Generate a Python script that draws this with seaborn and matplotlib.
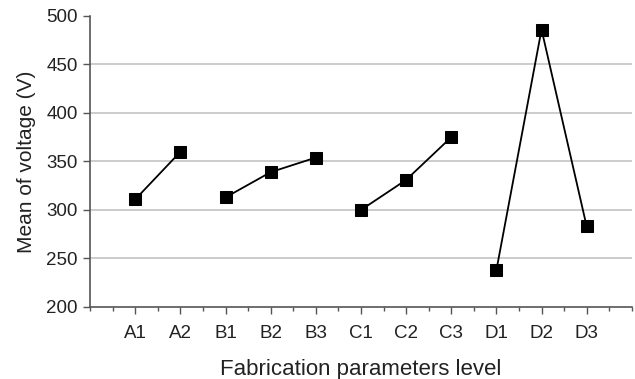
import pandas as pd
import numpy as np
import matplotlib
matplotlib.use("Agg")
import matplotlib.pyplot as plt
import seaborn as sns
from matplotlib.ticker import MultipleLocator

# ----- Data -----
levels = ["A1", "A2", "B1", "B2", "B3", "C1", "C2", "C3", "D1", "D2", "D3"]
groups = ["A", "A", "B", "B", "B", "C", "C", "C", "D", "D", "D"]
voltage = [311, 360, 313, 339, 354, 300, 331, 375, 238, 486, 283]

df = pd.DataFrame({"level": levels, "group": groups, "voltage": voltage})
df["pos"] = np.arange(len(levels))

# ----- Plot -----
sns.set_style("white")
plt.rcParams["font.family"] = ["Liberation Sans", "DejaVu Sans"]

fig = plt.figure(figsize=(6.35, 3.79), dpi=100)
ax = fig.add_axes([0.142, 0.19, 0.853, 0.768])

# horizontal grid (no line at the top, 500)
for yv in [250, 300, 350, 400, 450]:
    ax.axhline(yv, color="#c4c4c4", linewidth=1.2, zorder=0)

sns.lineplot(data=df, x="pos", y="voltage", units="group", estimator=None,
             color="black", marker="s", markersize=8, markeredgecolor="black",
             linewidth=1.3, ax=ax, legend=False, zorder=3)

ax.set_xlim(-1, 11)
ax.set_ylim(200, 500)
ax.set_xticks(df["pos"])
ax.set_xticklabels(levels)
ax.xaxis.set_minor_locator(MultipleLocator(0.5))
ax.yaxis.set_major_locator(MultipleLocator(50))

for side in ["top", "right"]:
    ax.spines[side].set_visible(False)
for side in ["left", "bottom"]:
    ax.spines[side].set_color("#555555")
    ax.spines[side].set_linewidth(1.2)

ax.tick_params(axis="both", which="major", direction="out", length=5, width=1,
               color="#555555", labelsize=13.5, labelcolor="#222222")
ax.tick_params(axis="x", which="major", length=5, bottom=True, pad=8)
ax.tick_params(axis="x", which="minor", direction="out", length=3, width=1,
               color="#555555", bottom=True)
ax.tick_params(axis="y", which="major", left=True, pad=4)

ax.set_xlabel("Fabrication parameters level", fontsize=16, color="#222222", labelpad=12)
ax.set_ylabel("Mean of voltage (V)", fontsize=15, color="#222222", labelpad=7)

fig.savefig("out.png", dpi=100)
